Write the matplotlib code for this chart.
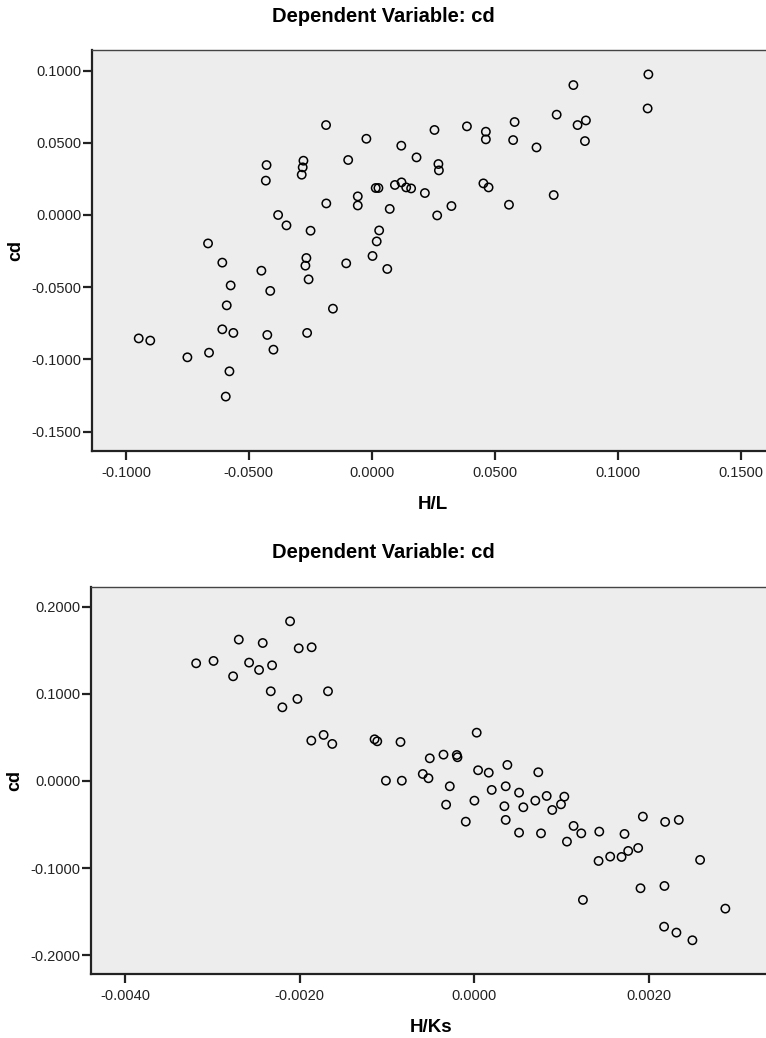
import numpy as np
import matplotlib
matplotlib.use("Agg")
import matplotlib.pyplot as plt
from matplotlib.ticker import FuncFormatter

plt.rcParams['font.family'] = ['Liberation Sans', 'DejaVu Sans']
plt.rcParams['axes.unicode_minus'] = False

# cd against H/L
hl = [-0.0666, -0.0608, -0.0574, -0.0590, -0.0449, -0.0413, -0.0428, -0.0431,
      -0.0381, -0.0347, -0.0278, -0.0281, -0.0285, -0.0249, -0.0266, -0.0270,
      -0.0257, -0.0158, -0.0186, -0.0185, -0.0096, -0.0022, -0.0057, -0.0057,
      -0.0104, 0.0003, 0.0020, 0.0030, 0.0063, 0.0016, 0.0027, 0.0073,
      0.0094, 0.0120, 0.0182, 0.0255, 0.0387, 0.0464, 0.0464, 0.0581,
      0.0575, 0.0670, 0.0752, 0.0820, 0.0837, 0.0871, 0.0867, 0.1125,
      0.1122, 0.0271, 0.0273, 0.0121, 0.0140, 0.0160, 0.0216, 0.0266,
      0.0324, 0.0454, 0.0475, 0.0558, 0.0740, -0.0948, -0.0901, -0.0750,
      -0.0662, -0.0608, -0.0563, -0.0579, -0.0594, -0.0425, -0.0400, -0.0263]
cd_hl = [-0.0197, -0.0330, -0.0488, -0.0626, -0.0386, -0.0526, 0.0346, 0.0238,
         0.0000, -0.0072, 0.0376, 0.0330, 0.0279, -0.0109, -0.0298, -0.0351,
         -0.0446, -0.0649, 0.0623, 0.0080, 0.0381, 0.0528, 0.0129, 0.0066,
         -0.0335, -0.0284, -0.0183, -0.0107, -0.0374, 0.0187, 0.0187, 0.0042,
         0.0208, 0.0480, 0.0399, 0.0589, 0.0614, 0.0577, 0.0524, 0.0644,
         0.0519, 0.0468, 0.0695, 0.0900, 0.0623, 0.0655, 0.0512, 0.0974,
         0.0738, 0.0353, 0.0309, 0.0226, 0.0191, 0.0184, 0.0152, -0.0003,
         0.0062, 0.0219, 0.0191, 0.0071, 0.0138, -0.0855, -0.0870, -0.0986,
         -0.0954, -0.0792, -0.0817, -0.1083, -0.1258, -0.0831, -0.0933, -0.0817]

# cd against H/Ks
hks = [-0.003185, -0.002986, -0.002762, -0.002697, -0.002579, -0.002465,
       -0.002423, -0.002316, -0.002331, -0.002198, -0.002110, -0.002011,
       -0.002026, -0.001863, -0.001676, -0.001867, -0.001726, -0.001627,
       -0.001143, -0.001112, -0.000846, -0.001013, -0.000831, 0.000026,
       -0.000511, -0.000354, -0.000202, -0.000194, -0.000591, -0.000526,
       -0.000282, -0.000324, -0.000099, 0.000000, 0.000042, 0.000164,
       0.000377, 0.000731, 0.000198, 0.000358, 0.000511, 0.000343,
       0.000560, 0.000697, 0.000827, 0.000891, 0.000991, 0.001029,
       0.000358, 0.000511, 0.000762, 0.001135, 0.001223, 0.001059,
       0.001429, 0.001718, 0.001928, 0.002183, 0.002339, 0.001421,
       0.001554, 0.001684, 0.001760, 0.001874, 0.002583, 0.001901,
       0.002175, 0.001242, 0.002872, 0.002171, 0.002312, 0.002495]
cd_hks = [0.1350, 0.1377, 0.1201, 0.1622, 0.1358, 0.1274,
          0.1583, 0.1327, 0.1029, 0.0845, 0.1832, 0.1522,
          0.0941, 0.1534, 0.1029, 0.0463, 0.0528, 0.0425,
          0.0478, 0.0455, 0.0447, 0.0003, 0.0003, 0.0554,
          0.0260, 0.0302, 0.0298, 0.0272, 0.0080, 0.0031,
          -0.0061, -0.0272, -0.0467, -0.0226, 0.0123, 0.0095,
          0.0184, 0.0100, -0.0103, -0.0061, -0.0134, -0.0290,
          -0.0302, -0.0226, -0.0172, -0.0333, -0.0268, -0.0180,
          -0.0447, -0.0593, -0.0601, -0.0516, -0.0601, -0.0696,
          -0.0581, -0.0608, -0.0409, -0.0470, -0.0447, -0.0918,
          -0.0868, -0.0872, -0.0803, -0.0769, -0.0906, -0.1231,
          -0.1205, -0.1365, -0.1465, -0.1672, -0.1740, -0.1828]

hl_ticks = [-0.10, -0.05, 0.0, 0.05, 0.10, 0.15]
cd_hl_ticks = [-0.15, -0.10, -0.05, 0.0, 0.05, 0.10]
hks_ticks = [-0.004, -0.002, 0.0, 0.002]
cd_hks_ticks = [-0.2, -0.1, 0.0, 0.1, 0.2]

W, H = 766, 1038
fig = plt.figure(figsize=(W / 100, H / 100), dpi=100)
fig.patch.set_facecolor('white')

fmt = FuncFormatter(lambda v, p: '%.4f' % (0.0 if abs(v) < 1e-12 else v))


def panel(box, x, y, xticks, yticks, xlim, ylim, xlabel, title_y):
    l, t, r, b = box
    ax = fig.add_axes([l / W, 1 - b / H, (r - l) / W, (b - t) / H])
    ax.set_facecolor('#EDEDED')
    ax.scatter(x, y, s=36, facecolors='none', edgecolors='black',
               linewidths=1.1, zorder=3)
    ax.set_xlim(*xlim)
    ax.set_ylim(*ylim)
    ax.set_xticks(xticks)
    ax.set_yticks(yticks)
    ax.xaxis.set_major_formatter(fmt)
    ax.yaxis.set_major_formatter(fmt)
    ax.tick_params(length=6.5, width=1.6, color='#222222', labelsize=10.5,
                   labelcolor='#222222')
    ax.tick_params(axis='x', pad=4)
    ax.tick_params(axis='y', pad=1)
    for side in ['left', 'bottom']:
        ax.spines[side].set_linewidth(1.6)
        ax.spines[side].set_color('#222222')
    ax.spines['top'].set_linewidth(1.0)
    ax.spines['top'].set_color('#444444')
    ax.spines['right'].set_visible(False)
    ax.set_xlabel(xlabel, fontsize=13.5, fontweight='bold', labelpad=12)
    ax.set_ylabel('cd', fontsize=13, fontweight='bold', labelpad=5)
    fig.text(0.5, 1 - title_y / H, 'Dependent Variable: cd', ha='center',
             va='center', fontsize=14.5, fontweight='bold')
    return ax


panel((92, 50, 774, 451), hl, cd_hl, hl_ticks, cd_hl_ticks,
      (-0.1138, 0.1636), (-0.1635, 0.1143), 'H/L', 16)
panel((90.7, 586.7, 772, 974), hks, cd_hks, hks_ticks, cd_hks_ticks,
      (-0.004392, 0.003406), (-0.2215, 0.2229), 'H/Ks', 553)

fig.savefig('out.png', dpi=100)
